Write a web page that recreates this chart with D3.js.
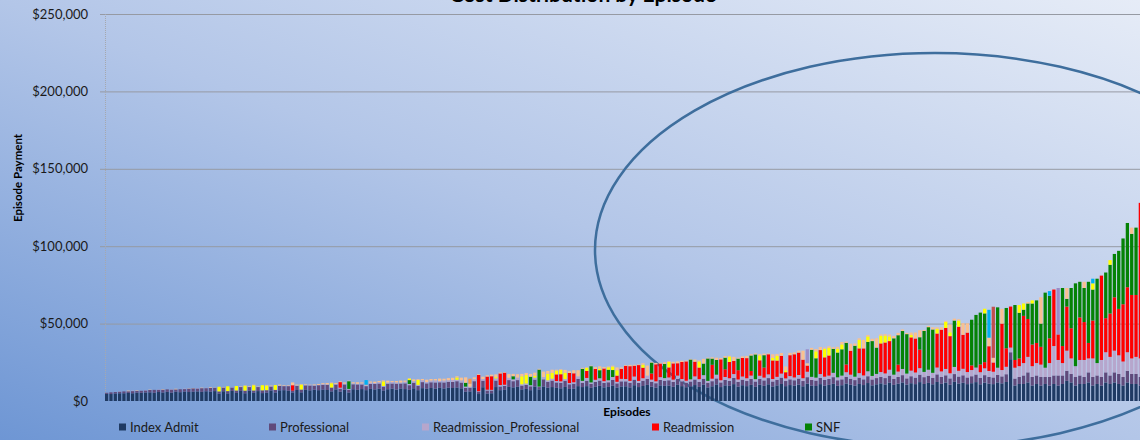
<!DOCTYPE html>
<html>
<head>
<meta charset="utf-8">
<script src="https://cdn.jsdelivr.net/npm/d3@7"></script>
<style>
  html, body { margin: 0; padding: 0; background: #fff; }
  svg { display: block; font-family: Lato, "Open Sans", sans-serif; }
</style>
</head>
<body>
<div id="chart"></div>
<script>
// episode payments in $ thousands, one value per episode (episodes sorted by total)
const indexAdmit = [
  4.6, 4.5, 4.9, 5.0, 5.0, 5.2, 5.0, 5.4, 5.3, 5.5,
  5.6, 5.3, 5.8, 5.5, 5.9, 5.4, 6.0, 5.7, 6.1, 5.8,
  6.0, 6.2, 5.9, 6.3, 6.1, 6.4, 4.8, 6.3, 4.9, 6.5,
  5.2, 6.5, 5.0, 6.6, 5.3, 6.4, 5.1, 5.4, 6.8, 5.5,
  6.9, 7.0, 6.6, 5.5, 7.1, 5.6, 7.2, 6.9, 7.3, 7.0,
  7.4, 7.1, 6.2, 7.5, 6.0, 7.3, 5.5, 7.6, 7.2, 7.7,
  7.0, 7.8, 7.5, 7.9, 6.8, 7.6, 8.0, 7.4, 8.1, 7.7,
  7.2, 8.2, 7.0, 8.3, 7.9, 8.4, 8.0, 8.5, 8.1, 8.6,
  8.4, 8.7, 8.2, 6.0, 6.2, 8.8, 4.5, 8.9, 4.8, 5.0,
  9.0, 7.0, 7.2, 9.1, 8.8, 9.2, 7.5, 7.8, 7.0, 9.3,
  7.5, 9.4, 8.6, 9.0, 8.5, 8.2, 9.1, 7.8, 8.0, 9.6,
  9.0, 9.6, 8.5, 9.2, 9.8, 8.8, 9.1, 10.0, 8.7, 9.4,
  9.5, 8.8, 10.2, 9.0, 9.7, 10.4, 9.3, 8.6, 10.1, 9.8,
  10.0, 9.2, 10.5, 9.6, 8.9, 9.4, 10.3, 9.1, 10.6, 8.8,
  9.5, 10.7, 9.0, 10.1, 9.8, 10.9, 9.3, 10.2, 9.6, 10.4,
  9.2, 10.5, 9.8, 10.8, 9.4, 10.1, 11.0, 9.6, 10.3, 9.9,
  10.6, 9.5, 11.2, 10.0, 9.7, 10.9, 9.9, 10.4, 11.1, 9.8,
  10.2, 11.3, 10.5, 9.9, 11.0, 10.3, 11.6, 10.1, 10.8, 11.4,
  10.7, 11.8, 10.4, 11.2, 12.0, 10.6, 11.5, 10.9, 12.2, 11.0,
  11.7, 10.8, 12.3, 11.1, 11.9, 10.5, 12.4, 11.3, 11.8, 10.9,
  11.5, 12.2, 10.8, 11.9, 11.2, 10.9, 12.0, 11.4, 12.3, 27.0,
  10, 11, 11, 12, 10, 11, 10, 11, 10, 11,
  10, 11, 13, 12, 10, 11, 11, 12, 10, 11,
  10, 12, 11, 12, 11, 10, 12, 11, 11, 10
];

const professional = [
  0.7, 1.1, 0.9, 1.0, 1.2, 1.1, 1.4, 1.1, 1.3, 1.3,
  1.5, 1.9, 1.4, 1.8, 1.6, 2.0, 1.5, 1.9, 1.6, 2.1,
  2.2, 1.9, 2.4, 2.0, 2.3, 2.1, 1.4, 2.4, 1.5, 2.2,
  1.6, 2.5, 1.7, 2.4, 1.5, 2.6, 1.8, 1.6, 2.5, 1.7,
  2.8, 2.6, 3.0, 1.2, 2.7, 1.8, 2.9, 3.1, 2.6, 3.2,
  3.0, 3.3, 2.5, 3.1, 2.0, 3.4, 1.8, 3.2, 3.5, 3.0,
  2.6, 3.2, 3.5, 3.4, 2.5, 3.6, 3.3, 3.8, 3.2, 3.7,
  3.0, 3.6, 2.8, 3.9, 3.5, 3.7, 4.0, 3.6, 3.9, 3.8,
  3.9, 4.1, 3.7, 2.5, 2.4, 4.0, 1.5, 4.2, 2.0, 1.8,
  4.2, 2.4, 2.6, 4.4, 4.0, 4.3, 2.5, 2.6, 2.5, 4.5,
  1.5, 4.6, 3.8, 4.2, 3.5, 3.6, 4.0, 3.0, 3.2, 4.7,
  2.8, 3.5, 2.6, 3.1, 3.4, 2.9, 3.0, 3.6, 2.7, 3.3,
  3.2, 3.0, 3.6, 2.7, 3.4, 3.8, 3.1, 2.9, 3.5, 3.3,
  3.4, 3.1, 3.7, 3.0, 2.9, 3.2, 3.6, 3.3, 3.8, 3.0,
  3.3, 3.9, 3.0, 3.5, 3.2, 4.0, 3.1, 3.6, 3.3, 3.8,
  3.4, 3.8, 3.5, 4.0, 3.2, 3.6, 4.1, 3.3, 3.7, 3.5,
  3.9, 3.4, 4.2, 3.6, 3.5, 4.0, 3.7, 3.8, 4.3, 3.6,
  3.8, 4.3, 3.9, 3.6, 4.1, 3.7, 4.4, 3.8, 4.0, 4.2,
  4.1, 4.6, 3.9, 4.3, 4.7, 4.0, 4.5, 4.2, 4.8, 4.4,
  4.6, 4.2, 4.9, 4.4, 4.7, 4.1, 5.0, 4.5, 4.8, 4.3,
  4.5, 4.9, 4.2, 4.8, 4.4, 4.3, 4.9, 4.5, 5.0, 4.5,
  4.5, 4.5, 5.5, 6.5, 5.5, 5.5, 5.5, 4.5, 5.5, 5.5,
  6.5, 5.5, 6.5, 5.5, 5.5, 5.5, 4.5, 6.5, 5.5, 5.5,
  5.5, 6.5, 5.5, 6.5, 6.5, 5.5, 7.5, 6.5, 6.5, 5.5
];

const readmissionProfessional = [
  0, 0, 0, 0.2, 0, 0, 0.3, 0, 0, 0.2,
  0, 0, 0.2, 0, 0, 0.3, 0, 0, 0.3, 0,
  0, 0.3, 0, 0.2, 0, 0.3, 0, 0, 0, 0.3,
  0, 0.3, 0, 0.2, 0, 0.3, 0, 0, 0.3, 0,
  0.3, 0.2, 0.4, 0, 0.3, 0, 0.2, 0.4, 0.3, 0.2,
  0.5, 0.3, 0, 0.4, 0.6, 0.5, 0.5, 0.6, 0.4, 0.7,
  0.5, 0.8, 0.6, 0.9, 0.4, 0.7, 1.0, 0.8, 0.6, 1.0,
  0.8, 1.0, 0.6, 1.2, 0.9, 1.1, 1.3, 0.8, 1.2, 1.0,
  1.2, 0.9, 1.4, 0.8, 0.6, 1.3, 0.3, 1.1, 0.5, 0.4,
  1.4, 0.9, 0.7, 1.5, 1.2, 1.6, 0.8, 0.9, 0.7, 1.3,
  0.3, 1.5, 1.0, 1.2, 0.9, 0.9, 1.1, 0.8, 0.9, 1.6,
  1.2, 1.8, 0.9, 1.4, 1.5, 1.1, 1.3, 1.9, 1.0, 1.6,
  1.5, 1.2, 2.0, 1.3, 1.6, 2.2, 1.4, 1.2, 1.8, 1.7,
  1.8, 1.5, 2.2, 1.6, 1.3, 1.4, 2.0, 1.7, 2.3, 1.2,
  1.6, 2.4, 1.4, 1.9, 1.7, 2.5, 1.5, 2.0, 1.8, 2.2,
  1.5, 2.0, 1.8, 2.4, 1.6, 1.9, 2.6, 1.7, 2.1, 1.8,
  2.3, 1.8, 3.5, 2.0, 1.9, 2.5, 2.1, 2.2, 2.8, 1.9,
  2.4, 3.0, 2.6, 2.2, 2.9, 2.5, 3.2, 2.3, 2.7, 3.1,
  3.0, 3.8, 2.7, 3.5, 4.0, 3.1, 3.6, 3.3, 4.2, 3.4,
  3.9, 3.2, 4.4, 3.6, 4.1, 3.3, 4.6, 3.7, 4.2, 3.5,
  4.0, 4.5, 3.6, 4.4, 3.8, 3.7, 4.6, 4.1, 4.8, 3.0,
  7, 7, 8, 10, 7, 8, 8, 6, 9, 19,
  10, 8, 13, 10, 7, 10, 11, 9, 12, 8,
  11, 13, 12, 14, 12, 10, 12, 10, 11, 12
];

const readmission = [
  0, 0, 0, 0, 0, 0, 0, 0, 0, 0,
  0, 0, 0, 0, 0, 0, 0, 0, 0, 0,
  0, 0, 0, 0, 0, 0, 0, 0, 0, 0,
  0, 0, 0, 0, 0, 0, 0, 0, 0, 0,
  0, 0, 0, 3.5, 0, 0, 0, 0, 0, 0,
  0, 0, 0, 0, 3.6, 0, 0, 0, 0, 0,
  0, 0, 0, 0, 0, 0, 0, 0, 0, 0,
  0, 0, 0, 0, 0, 0, 0, 0, 0, 0,
  0, 0, 0, 0, 0, 0, 10.5, 0, 8.5, 8.8,
  0, 7.5, 7.8, 0, 0, 0, 0, 0, 0, 0,
  0, 0, 0, 0, 4.3, 4.6, 0, 6.5, 5.8, 0,
  0, 4.5, 0, 7.0, 0, 8.2, 0, 0, 4.0, 6.5,
  8.5, 9.5, 7.0, 10.2, 6.8, 0, 4.0, 11.0, 8.8, 0,
  6.5, 10.5, 8.0, 11.0, 12.5, 0, 9.5, 7.5, 0, 0,
  9.0, 0, 13.5, 5.0, 10.5, 8.5, 6.0, 12.0, 13.0, 3.0,
  0, 10.0, 6.5, 13.0, 12.0, 10.5, 11.5, 4.0, 13.5, 15.0,
  14.5, 12.0, 4.0, 0, 0, 15.5, 12.5, 13.0, 0, 0,
  0, 5.0, 15.5, 0, 16.0, 17.5, 0, 0, 0, 18.5,
  20.0, 18.5, 0, 4.5, 0, 0, 21.5, 22.0, 12.0, 0,
  0, 0, 22.0, 27.0, 26.5, 24.0, 0, 28.5, 22.0, 25.5,
  3.0, 0, 5.0, 4.0, 16.0, 6.0, 0, 30.0, 12.0, 26.5,
  5, 5, 30.5, 24.5, 14, 13, 11.5, 0, 16, 36.5,
  16.5, 11, 28.5, 19.5, 0, 27.5, 24.5, 10, 24.5, 0,
  54.5, 22, 28, 34.5, 30, 37, 42, 41, 40, 100.5
];

const snf = [
  0, 0, 0, 0, 0, 0, 0, 0, 0, 0,
  0, 0, 0, 0, 0, 0, 0, 0, 0, 0,
  0, 0, 0, 0, 0, 0, 0, 0, 0, 0,
  0, 0, 0, 0, 0, 0, 0, 0, 0, 0,
  0, 0, 0, 0, 0, 0, 0, 0, 0, 0,
  0, 0, 0, 0, 0, 0, 5.0, 0, 0, 0,
  0, 0, 0, 0, 0, 0, 0, 0, 0, 0,
  2.5, 0, 0, 0, 0, 0, 0, 0, 0, 0,
  0, 0, 0, 2.5, 0, 0, 0, 0, 0, 0,
  0, 0, 0, 0, 2.0, 0, 0, 0, 5.5, 0,
  11.0, 0, 0, 0, 0, 0, 0, 0, 0, 0,
  7.8, 0, 10.5, 0, 5.2, 0, 6.8, 4.5, 0, 0,
  0, 0, 0, 0, 0, 0, 7.0, 0, 0, 9.2,
  0, 0, 0, 0, 0, 12.8, 0, 0, 7.5, 14.5,
  4.0, 9.5, 0, 7.5, 0, 0, 7.5, 0, 0, 10.0,
  16.0, 0, 8.0, 0, 0, 0, 0, 0, 0, 0,
  0, 0, 0, 17.5, 12.5, 0, 0, 0, 15.5, 16.0,
  17.0, 14.0, 0, 20.0, 0, 0, 19.0, 22.5, 17.0, 0,
  0, 0, 23.5, 19.0, 24.5, 25.5, 0, 0, 8.0, 26.5,
  27.5, 28.0, 0, 0, 0, 0, 30.0, 0, 0, 0,
  29.5, 34.0, 33.5, 31.5, 0, 0, 39.0, 0, 26.0, 0,
  35.5, 29.5, 4, 10, 26.5, 27.5, 15, 48.5, 27.5, 0,
  0, 37.5, 5, 26, 53.5, 23, 22, 39.5, 20, 54.5,
  0, 29.5, 31.5, 28, 37.5, 42.5, 41.5, 39.5, 43.5, 0
];

const homeHealth = [
  0, 0, 0, 0, 0, 0, 0, 0, 0, 0,
  0, 0, 0, 0, 0, 0, 0, 0, 0, 0,
  0, 0, 0, 0, 0, 0, 3.0, 0, 3.1, 0,
  2.9, 0, 3.2, 0, 3.4, 0, 3.3, 3.0, 0, 3.1,
  0, 0, 0, 0, 0, 3.2, 0, 0, 0, 0,
  0, 0, 2.8, 0, 0, 0, 0, 0, 0, 0,
  0, 0, 0, 0, 3.0, 0, 0, 0, 0, 0,
  1.0, 0, 3.2, 0, 0, 0, 0, 0, 0, 0,
  0, 1.5, 0, 0, 0, 0, 0, 0, 0, 0,
  0.8, 0, 0, 0, 0, 0, 5.2, 5.5, 0, 1.2,
  0, 0, 4.2, 3.8, 2.5, 2.8, 4.0, 0, 0, 0,
  0, 2.0, 0, 0, 1.0, 0, 1.6, 2.2, 3.5, 0,
  0, 0, 0, 0, 2.0, 0, 0, 0, 0, 0,
  3.5, 0, 0, 0, 0, 0, 0, 4.0, 0, 0,
  0, 0, 0, 0, 3.5, 0, 0, 0, 0, 0,
  0, 3.2, 0, 0, 1.6, 3.0, 0, 1.2, 0, 0,
  0, 0, 0, 0, 4.5, 0, 5.5, 5.0, 0, 2.5,
  3.2, 0, 0, 0, 5.5, 0, 3.5, 0, 0, 5.0,
  4.5, 3.0, 0, 0, 0, 0, 1.5, 0, 0, 0,
  0, 0, 3.0, 0, 4.0, 2.5, 0, 4.0, 0, 0,
  0, 0, 0, 3.0, 0, 0, 0, 0, 0, 0,
  0, 5, 4, 0, 2, 0, 0, 0, 0, 0,
  0, 0, 0, 0, 0, 0, 0, 0, 4, 0,
  0, 0, 3, 0, 0, 0, 0, 0, 0, 0
];

const outpatient = [
  0, 0, 0, 0, 0, 0.4, 0, 0.3, 0, 0,
  0.2, 0, 0, 0.3, 0, 0, 0.4, 0, 0, 0.2,
  0.2, 0, 0.3, 0, 0.4, 0, 0, 0.3, 0, 0,
  0, 0.3, 0.2, 0.4, 0.3, 0.2, 0, 0.4, 0.4, 0,
  0.6, 0.4, 0.3, 1.8, 0.5, 0.3, 0.4, 0.2, 0.5, 0.6,
  0.6, 0.9, 0.4, 0.6, 0.5, 0.8, 0.3, 0.7, 1.0, 0.6,
  0.4, 0.8, 0.9, 0.7, 0.6, 1.2, 0.6, 0.9, 1.3, 0.8,
  0.3, 1.2, 0.5, 0.8, 1.5, 1.0, 0.9, 1.6, 1.2, 1.4,
  1.5, 0.8, 1.8, 3.5, 2.0, 1.2, 0.5, 1.5, 0.8, 1.0,
  1.8, 0.6, 0.4, 2.4, 1.5, 2.2, 1.5, 1.3, 1.8, 2.0,
  0.5, 3.5, 1.8, 2.0, 0.5, 0.4, 1.9, 1.2, 2.0, 4.0,
  0.6, 0.4, 0.3, 1.2, 1.5, 0.9, 0.5, 0.6, 1.8, 0.9,
  0.5, 0.8, 0.6, 0.4, 0.9, 6.5, 0.3, 0.9, 0.5, 1.0,
  0.6, 1.0, 1.2, 0.8, 0.5, 0.4, 1.4, 0.6, 3.0, 0.5,
  0.8, 1.5, 0.9, 1.0, 0.5, 2.6, 0.6, 1.0, 1.4, 0.8,
  0.6, 0.8, 1.0, 0.5, 2.4, 1.2, 1.8, 2.5, 1.5, 1.2,
  1.2, 5.8, 1.5, 1.2, 1.5, 2.0, 0.8, 1.0, 1.0, 1.2,
  1.5, 0.8, 4.5, 1.4, 1.0, 5.5, 0.9, 1.5, 6.0, 0.8,
  0.9, 1.2, 1.5, 1.5, 1.0, 0.8, 1.6, 3.8, 4.5, 0.6,
  0.8, 1.4, 1.0, 1.5, 0.6, 5.0, 1.2, 0.8, 7.5, 6.0,
  0, 0, 0, 0, 5.5, 3.0, 0, 9.5, 0, 0,
  0, 0, 0, 1, 0, 0, 17, 0, 0, 0,
  0, 0, 7, 0, 0, 0, 4, 0, 0, 0,
  0, 0, 0, 0, 0, 0, 0, 4, 0, 0
];

// rarely used services: [episode index, $ thousands]
const hospice = [[60, 3.0], [204, 18.0], [218, 3.0], [228, 3.0]];
const readmissionOutpatient = [[205, 33.0]];
const otherServices = [[162, 9.0], [220, 30.0]];
const dme = [[84, 3.2]];

const seriesNames = [
  "Index Admit", "Professional", "Readmission_Professional", "Readmission", "SNF",
  "Home Health", "Outpatient", "Hospice", "Readmission_Outpatient", "Other", "DME"
];
const seriesColors = [
  "#1f3a63", "#604a7b", "#b6a6cc", "#ff0000", "#058205",
  "#ffff00", "#fac090", "#00b0f0", "#c0504d", "#9a8cc8", "#f79646"
];
const yTicks = [0, 50000, 100000, 150000, 200000, 250000];

const w = 1140;
const h = 440;

// build one row per episode for d3.stack
var dense = [indexAdmit, professional, readmissionProfessional, readmission, snf, homeHealth, outpatient];
var sparse = [hospice, readmissionOutpatient, otherServices, dme];
var rows = d3.range(indexAdmit.length).map(function (i) {
  var row = { episode: i };
  dense.forEach(function (arr, k) {
    row[seriesNames[k]] = arr[i] * 1000;
  });
  sparse.forEach(function (arr, k) {
    var hit = arr.find(function (p) { return p[0] === i; });
    row[seriesNames[dense.length + k]] = hit ? hit[1] * 1000 : 0;
  });
  return row;
});

var stacked = d3.stack().keys(seriesNames)(rows);

var color = d3.scaleOrdinal().domain(seriesNames).range(seriesColors);

var x = d3
  .scaleBand()
  .domain(rows.map(function (d) { return d.episode; }))
  .range([105, 1142])
  .paddingInner(0.24);

var y = d3.scaleLinear().domain([0, 250000]).range([401, 14]);

var svg = d3
  .select("#chart")
  .append("svg")
  .attr("width", w)
  .attr("height", h);

// background gradient, darker blue bottom-left to pale top-right
var grad = svg
  .append("defs")
  .append("linearGradient")
  .attr("id", "bg")
  .attr("x1", 0)
  .attr("y1", 1)
  .attr("x2", 1)
  .attr("y2", 0);
grad.append("stop").attr("offset", 0).attr("stop-color", "#6e96d4");
grad.append("stop").attr("offset", 0.5).attr("stop-color", "#b3c6e8");
grad.append("stop").attr("offset", 1).attr("stop-color", "#e6ecf7");

svg
  .append("rect")
  .attr("width", w)
  .attr("height", h)
  .attr("fill", "url(#bg)");

// gridlines and tick labels
var yAxis = svg.append("g");
yAxis
  .selectAll("line")
  .data(yTicks.filter(function (t) { return t > 0; }))
  .join("line")
  .attr("x1", 100)
  .attr("x2", w)
  .attr("y1", function (d) { return y(d) + 0.5; })
  .attr("y2", function (d) { return y(d) + 0.5; })
  .attr("stroke", "#969aa3")
  .attr("stroke-width", 1);

yAxis
  .selectAll("text")
  .data(yTicks)
  .join("text")
  .attr("x", 88)
  .attr("y", function (d) { return y(d); })
  .attr("dy", "0.35em")
  .attr("text-anchor", "end")
  .attr("fill", "#1a1a1a")
  .style("font-size", "13px")
  .text(d3.format("$,"));

svg
  .append("line")
  .attr("x1", 105.5)
  .attr("x2", 105.5)
  .attr("y1", y(250000))
  .attr("y2", y(0))
  .attr("stroke", "#a6a8ae")
  .attr("stroke-dasharray", "1,1");

// hand drawn ellipse sits behind the bars
svg
  .append("ellipse")
  .attr("cx", 935)
  .attr("cy", 250)
  .attr("rx", 340)
  .attr("ry", 197)
  .attr("fill", "none")
  .attr("stroke", "#3e6e9d")
  .attr("stroke-width", 2.5);

// stacked bars
svg
  .append("g")
  .selectAll("g")
  .data(stacked)
  .join("g")
  .attr("fill", function (d) { return color(d.key); })
  .selectAll("rect")
  .data(function (d) {
    return d.filter(function (s) { return s[1] > s[0]; });
  })
  .join("rect")
  .attr("x", function (d) { return x(d.data.episode); })
  .attr("y", function (d) { return y(d[1]); })
  .attr("width", x.bandwidth())
  .attr("height", function (d) { return y(d[0]) - y(d[1]); });

// titles (the chart title is cropped at the top edge in the original)
svg
  .append("text")
  .attr("x", 583)
  .attr("y", 1.5)
  .attr("text-anchor", "middle")
  .attr("fill", "#000")
  .style("font-size", "21px")
  .style("font-weight", "bold")
  .text("Cost Distribution by Episode");

svg
  .append("text")
  .attr("transform", "translate(22,178) rotate(-90)")
  .attr("text-anchor", "middle")
  .attr("fill", "#000")
  .style("font-size", "11.5px")
  .style("font-weight", "bold")
  .text("Episode Payment");

svg
  .append("text")
  .attr("x", 627)
  .attr("y", 416)
  .attr("text-anchor", "middle")
  .attr("fill", "#000")
  .style("font-size", "12px")
  .style("font-weight", "bold")
  .text("Episodes");

// legend, first row only (the rest is cropped off the bottom)
var legendX = [119, 269, 422, 652, 805];
var legend = svg
  .append("g")
  .selectAll("g")
  .data(seriesNames.slice(0, 5))
  .join("g")
  .attr("transform", function (d, i) { return "translate(" + legendX[i] + ",427)"; });

legend
  .append("rect")
  .attr("x", 0)
  .attr("y", -3.5)
  .attr("width", 7)
  .attr("height", 7)
  .attr("fill", function (d) { return color(d); });

legend
  .append("text")
  .attr("x", 11)
  .attr("dy", "0.35em")
  .attr("fill", "#1a1a1a")
  .style("font-size", "13px")
  .text(function (d) { return d; });
</script>
</body>
</html>
